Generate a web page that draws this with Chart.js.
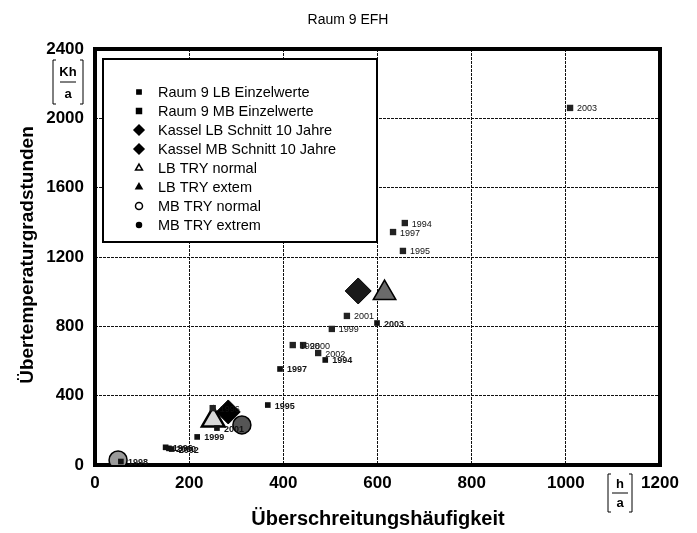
<!DOCTYPE html>
<html>
<head>
<meta charset="utf-8">
<script src="https://cdn.jsdelivr.net/npm/chart.js@4.4.0/dist/chart.umd.min.js"></script>
<style>
  body { margin: 0; background: #fff; }
  canvas { display: block; }
</style>
</head>
<body>
<canvas id="plots" width="697" height="533"></canvas>
<script>
// tick labels of both axes
var xTicks = [0, 200, 400, 600, 800, 1000, 1200];
var yTicks = [0, 400, 800, 1200, 1600, 2000, 2400];

// Raum 9 LB Einzelwerte (years 1994..2003)
var lbYears = ["1994", "1995", "1996", "1997", "1998", "1999", "2000", "2001", "2002", "2003"];
var lbX = [489, 367, 150, 393, 55, 217, 157, 259, 163, 599];
var lbY = [606, 346, 102, 554, 20, 162, 96, 213, 92, 819];

// Raum 9 MB Einzelwerte
var mbYears = ["1994", "1995", "1996", "1997", "1998", "1999", "2000", "2001", "2002", "2003"];
var mbX = [658, 654, 250, 633, 420, 503, 442, 535, 474, 1009];
var mbY = [1396, 1235, 328, 1344, 692, 785, 692, 860, 646, 2060];

// averages and test reference years
var kasselLB = [283, 306];
var kasselMB = [559, 1004];
var lbTryNormal = [251, 260];
var lbTryExtrem = [615, 992];
var mbTryNormal = [49, 29];
var mbTryExtrem = [312, 231];

function pts(xs, ys, names) {
    return xs.map(function (x, i) { return { x: x, y: ys[i], year: names ? names[i] : null }; });
}

// draws plot frame, year labels, unit brackets, axis titles and the boxed legend
var extras = {
    id: 'extras',
    beforeDatasetsDraw: function (chart) {
        var ctx = chart.ctx, a = chart.chartArea;
        ctx.save();
        ctx.strokeStyle = '#000';
        ctx.lineWidth = 4;
        ctx.strokeRect(a.left, a.top, a.right - a.left, a.bottom - a.top);
        ctx.restore();
    },
    afterDatasetsDraw: function (chart) {
        var ctx = chart.ctx;
        ctx.save();
        ctx.fillStyle = '#111';
        ctx.textBaseline = 'middle';
        [0, 1].forEach(function (di) {
            var meta = chart.getDatasetMeta(di);
            ctx.font = (di === 0 ? 'bold ' : '') + '9px "Liberation Sans", Arial';
            meta.data.forEach(function (el, i) {
                var d = chart.data.datasets[di].data[i];
                ctx.fillText(d.year, el.x + 7, el.y + 1);
            });
        });
        ctx.restore();
    },
    afterDraw: function (chart) {
        var ctx = chart.ctx;
        ctx.save();
        // title
        ctx.fillStyle = '#000';
        ctx.textAlign = 'center';
        ctx.textBaseline = 'middle';
        ctx.font = '14px "Liberation Sans", Arial';
        ctx.fillText('Raum 9 EFH', 348, 20);
        // x axis title
        ctx.font = 'bold 20px "Liberation Sans", Arial';
        ctx.fillText('Überschreitungshäufigkeit', 378, 519);
        // y axis title
        ctx.save();
        ctx.translate(28, 255);
        ctx.rotate(-Math.PI / 2);
        ctx.font = 'bold 19px "Liberation Sans", Arial';
        ctx.fillText('Übertemperaturgradstunden', 0, 0);
        ctx.restore();

        // unit brackets
        function unit(top, cx, w, h) {
            var l = cx - w / 2, r = cx + w / 2;
            ctx.lineWidth = 1;
            ctx.strokeStyle = '#000';
            ctx.beginPath();
            ctx.moveTo(l + 3, top); ctx.lineTo(l, top); ctx.lineTo(l, top + h); ctx.lineTo(l + 3, top + h);
            ctx.moveTo(r - 3, top); ctx.lineTo(r, top); ctx.lineTo(r, top + h); ctx.lineTo(r - 3, top + h);
            ctx.moveTo(cx - 8, top + h / 2); ctx.lineTo(cx + 8, top + h / 2);
            ctx.stroke();
        }
        ctx.font = 'bold 13px "Liberation Sans", Arial';
        unit(60, 68, 30, 44);
        ctx.fillText('Kh', 68, 72);
        ctx.fillText('a', 68, 94);
        unit(474, 620, 24, 38);
        ctx.fillText('h', 620, 484);
        ctx.fillText('a', 620, 503);

        // legend box
        var bx = 103, by = 59, bw = 274, bh = 183;
        ctx.fillStyle = '#fff';
        ctx.fillRect(bx, by, bw, bh);
        ctx.lineWidth = 2;
        ctx.strokeStyle = '#000';
        ctx.strokeRect(bx, by, bw, bh);
        var rowY = [92, 111, 130, 149, 168, 187, 206, 225];
        var names = ['Raum 9 LB Einzelwerte', 'Raum 9 MB Einzelwerte', 'Kassel LB Schnitt 10 Jahre',
            'Kassel MB Schnitt 10 Jahre', 'LB TRY normal', 'LB TRY extem', 'MB TRY normal', 'MB TRY extrem'];
        var styles = ['rect', 'rect', 'rectRot', 'rectRot', 'triangle', 'triangle', 'circle', 'circle'];
        var fills = ['#000', '#000', '#000', '#000', '#fff', '#000', '#fff', '#000'];
        var sizes = [3, 3.5, 5, 5, 4, 3.5, 3.5, 2.5];
        ctx.textAlign = 'left';
        ctx.font = '14.5px "Liberation Sans", Arial';
        names.forEach(function (n, i) {
            ctx.fillStyle = fills[i];
            ctx.strokeStyle = '#000';
            ctx.lineWidth = 1.5;
            Chart.helpers.drawPoint(ctx, { pointStyle: styles[i], radius: sizes[i], borderWidth: 1.5 }, 139, rowY[i]);
            ctx.fillStyle = '#000';
            ctx.fillText(n, 158, rowY[i] + 1);
        });
        ctx.restore();
    }
};

var tickFont = { family: '"Liberation Sans", Arial', size: 17, weight: 'bold' };
function plain(v) { return String(v); }

new Chart(document.getElementById('plots'), {
    type: 'scatter',
    data: {
        datasets: [
            { label: 'Raum 9 LB Einzelwerte', data: pts(lbX, lbY, lbYears), pointStyle: 'rect', pointRadius: 4, backgroundColor: '#111', borderColor: '#111', borderWidth: 0 },
            { label: 'Raum 9 MB Einzelwerte', data: pts(mbX, mbY, mbYears), pointStyle: 'rect', pointRadius: 4.5, backgroundColor: '#222', borderColor: '#222', borderWidth: 0 },
            { label: 'Kassel LB Schnitt 10 Jahre', data: pts([kasselLB[0]], [kasselLB[1]]), pointStyle: 'rectRot', pointRadius: 12, backgroundColor: '#000', borderColor: '#000', borderWidth: 1 },
            { label: 'Kassel MB Schnitt 10 Jahre', data: pts([kasselMB[0]], [kasselMB[1]]), pointStyle: 'rectRot', pointRadius: 13, backgroundColor: '#1a1a1a', borderColor: '#000', borderWidth: 1 },
            { label: 'LB TRY normal', data: pts([lbTryNormal[0]], [lbTryNormal[1]]), pointStyle: 'triangle', pointRadius: 13, backgroundColor: '#d8d8d8', borderColor: '#000', borderWidth: 2.5 },
            { label: 'LB TRY extem', data: pts([lbTryExtrem[0]], [lbTryExtrem[1]]), pointStyle: 'triangle', pointRadius: 13, backgroundColor: '#6a6a6a', borderColor: '#000', borderWidth: 1.5 },
            { label: 'MB TRY normal', data: pts([mbTryNormal[0]], [mbTryNormal[1]]), pointStyle: 'circle', pointRadius: 9, backgroundColor: '#9a9a9a', borderColor: '#000', borderWidth: 1.5 },
            { label: 'MB TRY extrem', data: pts([mbTryExtrem[0]], [mbTryExtrem[1]]), pointStyle: 'circle', pointRadius: 9, backgroundColor: '#555', borderColor: '#000', borderWidth: 1.5 }
        ]
    },
    options: {
        responsive: false,
        animation: false,
        devicePixelRatio: 1,
        layout: { padding: { top: 49, right: 37, left: 0, bottom: 0 } },
        plugins: { legend: { display: false }, tooltip: { enabled: false } },
        scales: {
            x: {
                type: 'linear', min: 0, max: 1200,
                afterFit: function (s) { s.height = 68; },
                afterBuildTicks: function (s) { s.ticks = xTicks.map(function (v) { return { value: v }; }); },
                ticks: { color: '#000', padding: 8, font: tickFont, callback: plain },
                grid: { color: '#111', lineWidth: 1, drawTicks: false },
                border: { display: false, dash: [3, 1] }
            },
            y: {
                type: 'linear', min: 0, max: 2400,
                afterFit: function (s) { s.width = 95; },
                afterBuildTicks: function (s) { s.ticks = yTicks.map(function (v) { return { value: v }; }); },
                ticks: { color: '#000', padding: 11, font: tickFont, callback: plain },
                grid: { color: '#111', lineWidth: 1, drawTicks: false },
                border: { display: false, dash: [3, 1] }
            }
        }
    },
    plugins: [extras]
});
</script>
</body>
</html>
